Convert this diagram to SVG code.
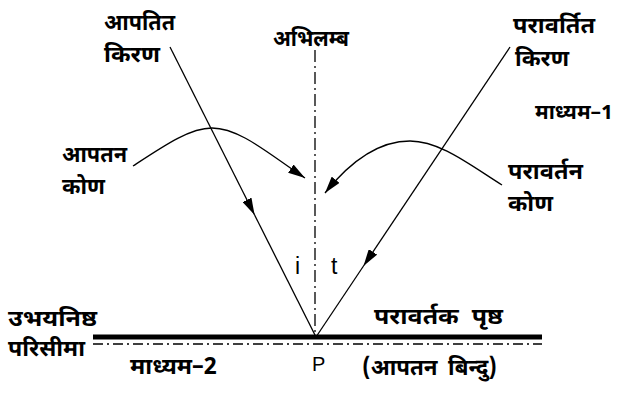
<svg xmlns="http://www.w3.org/2000/svg" width="621" height="396" viewBox="0 0 621 396">
<defs>
<style>
.t{font-family:"Noto Sans Devanagari","Noto Sans","Liberation Sans",sans-serif;font-size:23px;font-weight:bold;fill:#000;}
.s{font-size:20px;}
.l{font-family:"Liberation Sans",Arial,sans-serif;font-size:23px;fill:#000;}
.p{font-size:20px;}
.ray{stroke:#000;stroke-width:1.3;fill:none;}
.dd{stroke:#000;stroke-width:1.3;fill:none;stroke-dasharray:12 4 2 4;}
</style>
<marker id="ah" viewBox="0 0 17 10" refX="17" refY="5" markerWidth="17" markerHeight="10" markerUnits="userSpaceOnUse" orient="auto">
<path d="M0,0 L17,5 L0,10 z" fill="#000"/>
</marker>
</defs>
<rect width="621" height="396" fill="#fff"/>
<g id="surface">
<line x1="93" y1="337" x2="542" y2="337" stroke="#000" stroke-width="5"/>
<line x1="93" y1="344" x2="542" y2="344" stroke="#000" stroke-width="1.5" stroke-dasharray="10 4 2 4"/>
</g>
<g id="connectors">
<line id="normal" class="dd" x1="315" y1="50" x2="315" y2="337"/>
<line class="ray" x1="170" y1="47" x2="254.6" y2="215" marker-end="url(#ah)"/>
<line class="ray" x1="254.6" y1="215" x2="316" y2="337"/>
<line class="ray" x1="510" y1="47" x2="363.5" y2="266" marker-end="url(#ah)"/>
<line class="ray" x1="363.5" y1="266" x2="316" y2="337"/>
<path class="ray" d="M133,166 C165,145 190,128 212,128 C240,128 270,155 305,178" marker-end="url(#ah)"/>
<path class="ray" d="M502,185 C470,165 440,141 410,141 C375,141 345,168 325,193" marker-end="url(#ah)"/>
</g>
<g id="incident-ray-label"><text class="t" x="104" y="30" textLength="71" lengthAdjust="spacingAndGlyphs">आपतित</text><text class="t" x="104" y="62" textLength="56" lengthAdjust="spacingAndGlyphs">किरण</text></g>
<g id="normal-label"><text class="t" x="273" y="46" textLength="76" lengthAdjust="spacingAndGlyphs">अभिलम्ब</text></g>
<g id="reflected-ray-label"><text class="t" x="513" y="33" textLength="82" lengthAdjust="spacingAndGlyphs">परावर्तित</text><text class="t" x="515" y="66" textLength="54" lengthAdjust="spacingAndGlyphs">किरण</text></g>
<g id="medium1-label"><text class="t s" x="535" y="119" textLength="78" lengthAdjust="spacingAndGlyphs">माध्यम–1</text></g>
<g id="incidence-angle-label"><text class="t" x="62" y="162" textLength="65" lengthAdjust="spacingAndGlyphs">आपतन</text><text class="t" x="62" y="194" textLength="43" lengthAdjust="spacingAndGlyphs">कोण</text></g>
<g id="reflection-angle-label"><text class="t" x="508" y="179" textLength="75" lengthAdjust="spacingAndGlyphs">परावर्तन</text><text class="t" x="508" y="211" textLength="45" lengthAdjust="spacingAndGlyphs">कोण</text></g>
<g id="angle-i"><text class="l" x="295" y="274">i</text></g>
<g id="angle-t"><text class="l" x="331" y="274">t</text></g>
<g id="boundary-label"><text class="t" x="8" y="326" textLength="89" lengthAdjust="spacingAndGlyphs">उभयनिष्ठ</text><text class="t" x="8" y="356" textLength="77" lengthAdjust="spacingAndGlyphs">परिसीमा</text></g>
<g id="surface-label"><text class="t" x="374" y="324" textLength="129" lengthAdjust="spacingAndGlyphs" word-spacing="6">परावर्तक पृष्ठ</text></g>
<g id="medium2-label"><text class="t" x="130" y="374" textLength="87" lengthAdjust="spacingAndGlyphs">माध्यम–2</text></g>
<g id="point-p"><text class="l p" x="312" y="371">P</text></g>
<g id="point-label"><text class="t" x="362" y="375" textLength="135" lengthAdjust="spacingAndGlyphs" word-spacing="5">(आपतन बिन्दु)</text></g>
</svg>
